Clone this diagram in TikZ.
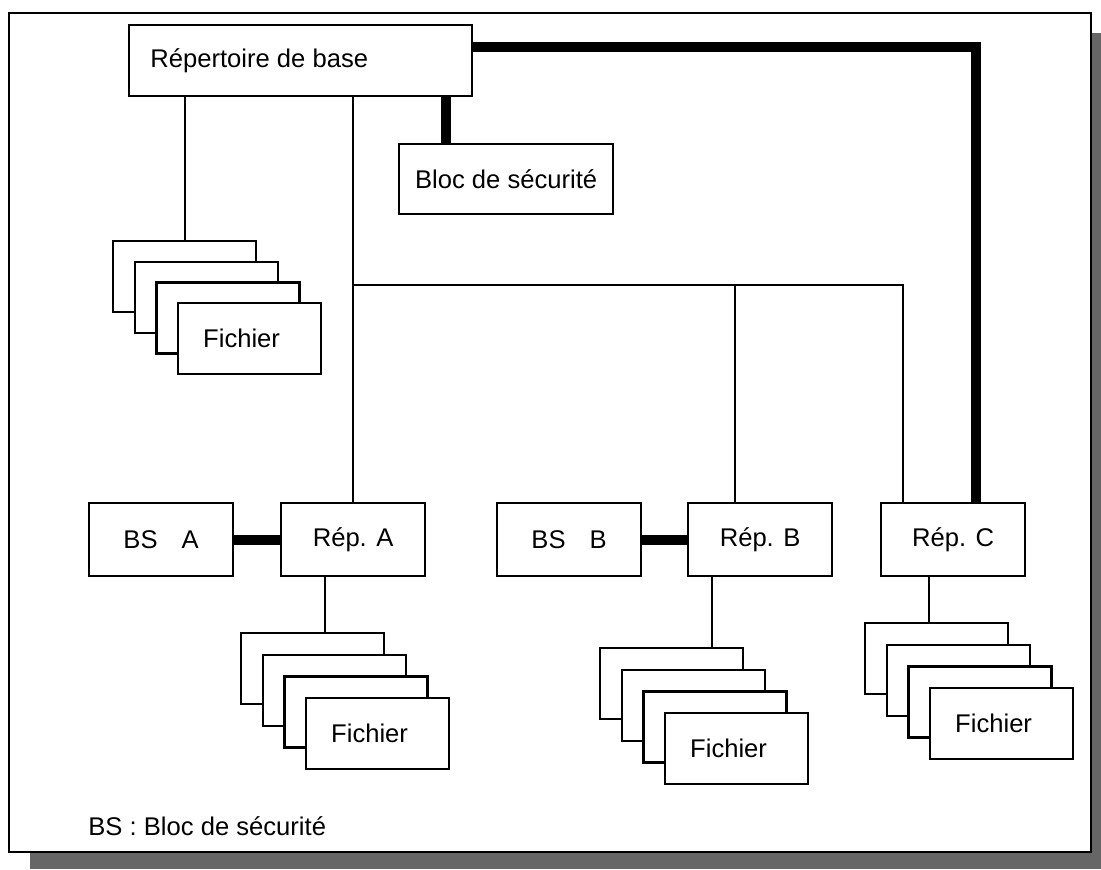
\documentclass[tikz,border=0pt]{standalone}
\usepackage{fontspec}
\setmainfont{Liberation Sans}
\begin{document}
\begin{tikzpicture}[x=0.5pt,y=-0.5pt,
  box/.style={draw, line width=1.1pt, fill=white, inner sep=0pt, anchor=north west,
    font=\fontsize{12.8}{15}\selectfont},
  card/.style={box, minimum width=71.5pt, minimum height=35.5pt},
  rbox/.style={box, minimum width=72pt, minimum height=36.5pt},
  thin/.style={line width=1.1pt},
  thick/.style={line width=5pt, line join=miter}]
\useasboundingbox (0,0) rectangle (1101,869);
% shadow and frame
\fill[black!60] (1092,33) rectangle (1101,869);
\fill[black!60] (30,852) rectangle (1101,869);
\draw[line width=1.1pt] (9,13) rectangle (1091,852);

% top boxes
\node[box, minimum width=171.5pt, minimum height=35.5pt,
  label={[anchor=west, font=\fontsize{12.8}{15}\selectfont, inner sep=0pt, xshift=11pt]west:Répertoire de base}]
  (base) at (128,24) {};
\node[box, minimum width=107pt, minimum height=35pt] (bloc) at (398,143) {Bloc de sécurité};

% row of directories
\node[rbox] (bsA) at (88,502) {BS\hspace{12pt}A};
\node[rbox] (repA) at (280,502) {Rép. A};
\node[rbox] (bsB) at (496,502) {BS\hspace{12pt}B};
\node[rbox] (repB) at (687,502) {Rép. B};
\node[rbox] (repC) at (880,502) {Rép. C};

% file stacks
\node[card] (f0a) at (112,240) {};
\node[card] (f0b) at (133.7,260.7) {};
\node[card] (f0c) at (155.4,281.4) {};
\node[card] (f0d) at (177,302) {Fichier\kern8pt};

\node[card] (fAa) at (240,632) {};
\node[card] (fAb) at (261.7,653.7) {};
\node[card] (fAc) at (283.4,675.4) {};
\node[card] (fAd) at (305,697) {Fichier\kern8pt};

\node[card] (fBa) at (599,647) {};
\node[card] (fBb) at (620.7,668.7) {};
\node[card] (fBc) at (642.4,690.4) {};
\node[card] (fBd) at (664,712) {Fichier\kern8pt};

\node[card] (fCa) at (864,622) {};
\node[card] (fCb) at (885.7,643.7) {};
\node[card] (fCc) at (907.4,665.4) {};
\node[card] (fCd) at (929,687) {Fichier\kern8pt};

% coordinates for connector columns
\coordinate (c0) at (185,0);
\coordinate (cA) at (353,0);
\coordinate (bus) at (0,285);
\coordinate (cB) at (735,0);
\coordinate (cC) at (903,0);
\coordinate (cBloc) at (446,0);
\coordinate (cThick) at (976,47);
\coordinate (cAf) at (325,0);
\coordinate (cBf) at (712,0);
\coordinate (cCf) at (929,0);

% thin connectors
\draw[thin] (base.south -| c0) -- (f0a.north -| c0);
\draw[thin] (base.south -| cA) -- (repA.north -| cA);
\draw[thin] (bus -| cA) -- (bus -| cC) -- (repC.north -| cC);
\draw[thin] (bus -| cB) -- (repB.north -| cB);
\draw[thin] (repA.south -| cAf) -- (fAa.north -| cAf);
\draw[thin] (repB.south -| cBf) -- (fBa.north -| cBf);
\draw[thin] (repC.south -| cCf) -- (fCa.north -| cCf);

% thick connectors
\draw[thick] (base.south -| cBloc) -- (bloc.north -| cBloc);
\draw[thick] (base.east |- cThick) -- (cThick) -- (repC.north -| cThick);
\draw[thick] (bsA.east) -- (repA.west);
\draw[thick] (bsB.east) -- (repB.west);

% legend
\node[anchor=west, inner sep=0pt, font=\fontsize{12.8}{15}\selectfont] (legend) at (88,826) {BS : Bloc de sécurité};
\end{tikzpicture}
\end{document}
